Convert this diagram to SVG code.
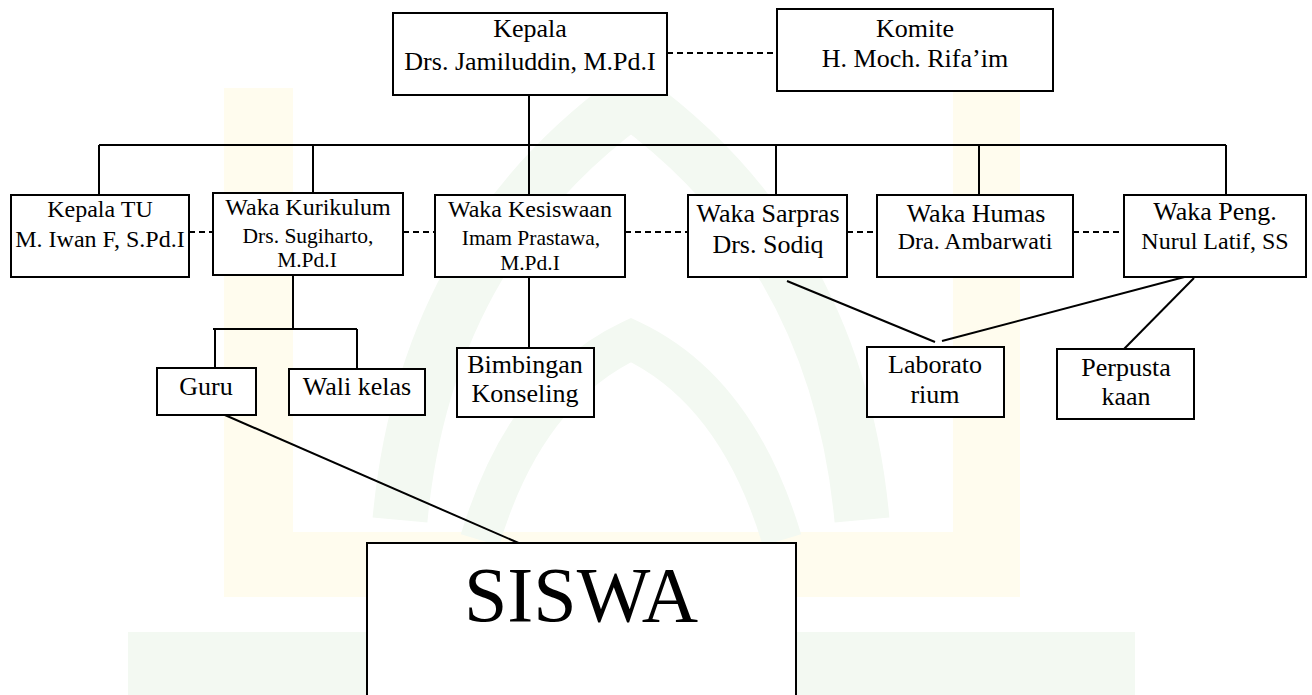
<svg xmlns="http://www.w3.org/2000/svg" width="1312" height="695" viewBox="0 0 1312 695">
<style>
.box{fill:#fff;stroke:#000;stroke-width:2}
.t{font-family:"Liberation Serif","Times New Roman",serif;fill:#000;text-anchor:middle}
.l{font-size:26px}
.m{font-size:24px}
.s{font-size:21.5px}
.c{stroke:#000;stroke-width:2;fill:none}
.d{stroke:#000;stroke-width:2;fill:none;stroke-dasharray:6 4}
.wy{fill:#fffcee}
.wg{fill:#f3f9f2}
</style>
<rect width="1312" height="695" fill="#fff"/>
<g id="watermark">
<path class="wy" d="M224 88H293V532H953V88H1020V597H224Z"/>
<path class="wg" d="M128 632H1135V695H128Z"/>
<path d="M400 520Q425 250 631 100Q837 250 862 520" fill="none" stroke="#f3f9f2" stroke-width="55"/>
<path d="M480 540Q525 390 631 340Q737 390 782 540" fill="none" stroke="#f3f9f2" stroke-width="40"/>
</g>
<g id="connectors">
<line class="c" x1="529" y1="68" x2="529" y2="195"/>
<line class="c" x1="99" y1="145" x2="1226" y2="145"/>
<line class="c" x1="99" y1="145" x2="99" y2="213"/>
<line class="c" x1="313" y1="145" x2="313" y2="213"/>
<line class="c" x1="776" y1="145" x2="776" y2="214"/>
<line class="c" x1="979" y1="145" x2="979" y2="214"/>
<line class="c" x1="1226" y1="145" x2="1226" y2="213"/>
<line class="c" x1="529" y1="277" x2="529" y2="348"/>
<line class="c" x1="293" y1="265" x2="293" y2="329"/>
<line class="c" x1="213" y1="329" x2="357" y2="329"/>
<line class="c" x1="215" y1="329" x2="215" y2="398"/>
<line class="c" x1="357" y1="329" x2="357" y2="407"/>
<line class="c" x1="787" y1="281" x2="935" y2="342"/>
<line class="c" x1="1192" y1="275" x2="942" y2="341"/>
<line class="c" x1="1194" y1="278" x2="1124" y2="349"/>
<line class="c" x1="218" y1="412" x2="530" y2="548" stroke-width="1.6"/>
<line class="d" x1="667" y1="53" x2="777" y2="53"/>
<line class="d" x1="189" y1="232" x2="213" y2="232"/>
<line class="d" x1="403" y1="232" x2="435" y2="232"/>
<line class="d" x1="625" y1="232" x2="688" y2="232"/>
<line class="d" x1="847" y1="232" x2="877" y2="232"/>
<line class="d" x1="1073" y1="232" x2="1124" y2="232"/>
</g>
<g id="kepala">
<rect class="box" x="393" y="13" width="274" height="82"/>
<text class="t l" x="530" y="37">Kepala</text>
<text class="t l" x="530" y="70">Drs. Jamiluddin, M.Pd.I</text>
</g>
<g id="komite">
<rect class="box" x="777" y="9" width="276" height="82"/>
<text class="t l" x="915" y="37">Komite</text>
<text class="t l" x="915" y="67">H. Moch. Rifa’im</text>
</g>
<g id="kepala-tu">
<rect class="box" x="11" y="195" width="178" height="82"/>
<text class="t m" x="100" y="217">Kepala TU</text>
<text class="t m" x="100" y="247">M. Iwan F, S.Pd.I</text>
</g>
<g id="kurikulum">
<rect class="box" x="213" y="193" width="190" height="82"/>
<text class="t m" x="308" y="215">Waka Kurikulum</text>
<text class="t s" x="308" y="243">Drs. Sugiharto,</text>
<text class="t s" x="307" y="267">M.Pd.I</text>
</g>
<g id="kesiswaan">
<rect class="box" x="435" y="195" width="190" height="82"/>
<text class="t m" x="530" y="217">Waka Kesiswaan</text>
<text class="t s" x="531" y="245">Imam Prastawa,</text>
<text class="t s" x="530" y="270">M.Pd.I</text>
</g>
<g id="sarpras">
<rect class="box" x="688" y="195" width="159" height="82"/>
<text class="t l" x="768" y="222">Waka Sarpras</text>
<text class="t l" x="768" y="253">Drs. Sodiq</text>
</g>
<g id="humas">
<rect class="box" x="877" y="195" width="196" height="82"/>
<text class="t l" x="976" y="222">Waka Humas</text>
<text class="t m" x="975" y="249">Dra. Ambarwati</text>
</g>
<g id="pengembangan">
<rect class="box" x="1124" y="195" width="182" height="82"/>
<text class="t l" x="1215" y="220">Waka Peng.</text>
<text class="t m" x="1215" y="249">Nurul Latif, SS</text>
</g>
<g id="guru">
<rect class="box" x="157" y="368" width="99" height="47"/>
<text class="t l" x="206" y="395">Guru</text>
</g>
<g id="walikelas">
<rect class="box" x="289" y="369" width="136" height="46"/>
<text class="t l" x="357" y="395">Wali kelas</text>
</g>
<g id="bk">
<rect class="box" x="457" y="348" width="137" height="69"/>
<text class="t l" x="525" y="373">Bimbingan</text>
<text class="t l" x="525" y="402">Konseling</text>
</g>
<g id="lab">
<rect class="box" x="867" y="347" width="137" height="70"/>
<text class="t l" x="935" y="373">Laborato</text>
<text class="t l" x="935" y="403">rium</text>
</g>
<g id="perpus">
<rect class="box" x="1057" y="349" width="137" height="70"/>
<text class="t l" x="1126" y="376">Perpusta</text>
<text class="t l" x="1126" y="405">kaan</text>
</g>
<g id="siswa">
<rect class="box" x="367" y="543" width="429" height="170" stroke-width="1.6"/>
<text class="t" x="581" y="621" font-size="78">SISWA</text>
</g>
</svg>
